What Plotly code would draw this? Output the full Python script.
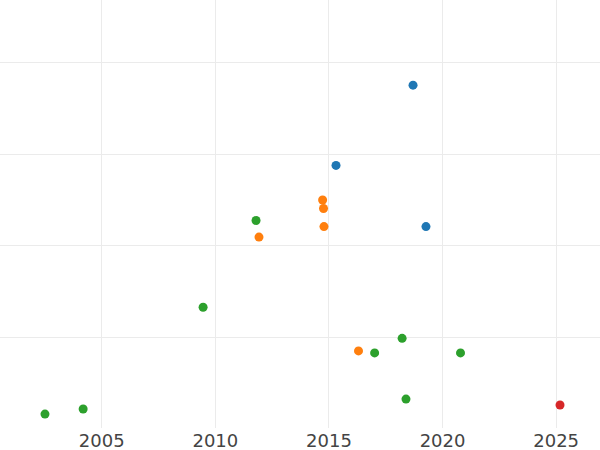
import plotly.graph_objects as go

# Data (x = year, y = value in arbitrary units)
blue_x = [2018.70, 2015.31, 2019.27]
blue_y = [375.5, 287.8, 221.0]

orange_x = [2014.72, 2014.76, 2014.78, 2011.92, 2016.30]
orange_y = [250.1, 240.7, 221.0, 209.5, 85.2]

green_x = [2011.79, 2009.46, 2002.50, 2004.18, 2018.22, 2017.01, 2020.79, 2018.39]
green_y = [227.6, 132.9, 16.2, 21.7, 98.9, 83.0, 83.0, 32.6]

red_x = [2025.17]
red_y = [26.1]

x_ticks = [2005, 2010, 2015, 2020, 2025]

series = [
    ("Series 1", blue_x, blue_y, "#1f77b4"),
    ("Series 2", orange_x, orange_y, "#ff7f0e"),
    ("Series 3", green_x, green_y, "#2ca02c"),
    ("Series 4", red_x, red_y, "#d62728"),
]

fig = go.Figure()
for name, xs, ys, color in series:
    fig.add_trace(go.Scatter(
        x=xs, y=ys, mode="markers", name=name,
        marker=dict(size=9, color=color, line=dict(width=0)),
    ))

fig.update_layout(
    width=600, height=450,
    margin=dict(l=0, r=0, t=0, b=22),
    paper_bgcolor="white", plot_bgcolor="white",
    showlegend=False,
    font=dict(family="DejaVu Sans", size=18, color="#444"),
)
fig.update_xaxes(
    range=[2000.52, 2026.93],
    tickvals=x_ticks, ticktext=[str(t) for t in x_ticks],
    showgrid=True, gridcolor="#ebebeb", gridwidth=1,
    zeroline=False, showline=False, ticks="",
)
fig.update_yaxes(
    range=[1, 468.5],
    dtick=100, tick0=0,
    showgrid=True, gridcolor="#ebebeb", gridwidth=1,
    zeroline=False, showline=False, showticklabels=False, ticks="",
)

fig.write_html(
    "out.html",
    config={"displayModeBar": False},
    post_script="document.body.style.margin='0';document.body.style.overflow='hidden';",
)
